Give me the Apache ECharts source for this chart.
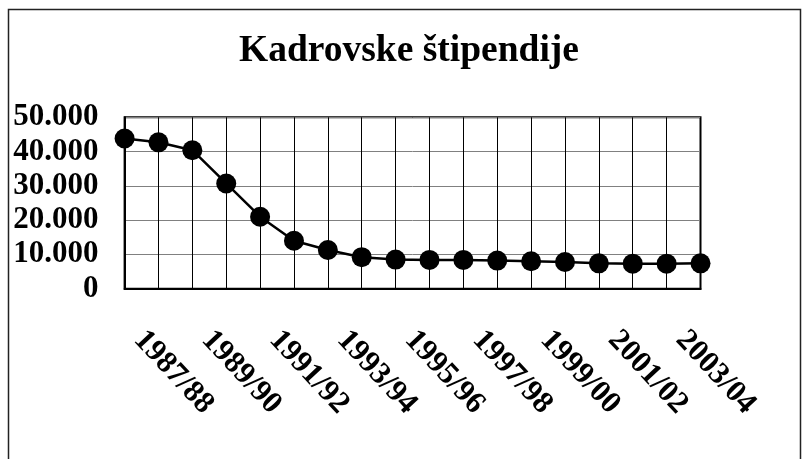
<!DOCTYPE html>
<html>
<head>
<meta charset="utf-8">
<script src="https://cdn.jsdelivr.net/npm/echarts@6/dist/echarts.min.js"></script>
<style>
html,body{margin:0;padding:0;background:#fff;}
#chart{width:802px;height:459px;}
</style>
</head>
<body>
<div id="chart"></div>
<script>
var titleText = 'Kadrovske štipendije';
var categories = ['1987/88','1988/89','1989/90','1990/91','1991/92','1992/93','1993/94','1994/95','1995/96','1996/97','1997/98','1998/99','1999/00','2000/01','2001/02','2002/03','2003/04','2004/05'];
var values = [43800, 42700, 40400, 30700, 21000, 14000, 11300, 9200, 8500, 8400, 8400, 8200, 8000, 7800, 7400, 7300, 7300, 7400];
var yMin = 0, yMax = 50000, yStep = 10000;

var FONT = '"Liberation Serif","Times New Roman",serif';
function fmt(v){ return v === 0 ? '0' : String(v).replace(/\B(?=(\d{3})+(?!\d))/g, '.'); }

var chart = echarts.init(document.getElementById('chart'), null, {renderer:'canvas'});
chart.setOption({
  animation: false,
  backgroundColor: '#fff',
  title: {
    text: titleText, left: 234, top: 27,
    textStyle: {fontFamily: FONT, fontWeight: 'bold', fontSize: 37.5, color: '#000'}
  },
  graphic: [{
    type: 'rect', silent: true,
    shape: {x: 8.5, y: 9.5, width: 792, height: 460},
    style: {fill: 'none', stroke: '#222', lineWidth: 1.5}
  }],
  grid: {left: 124.6, right: 101.5, top: 117.3, bottom: 170.3, show: true, borderColor: '#000', borderWidth: 2, backgroundColor: 'transparent'},
  xAxis: {
    type: 'category', data: categories, boundaryGap: false,
    axisLine: {show: true, lineStyle: {color: '#000', width: 2}},
    axisTick: {show: false},
    axisLabel: {show: true, interval: 1, rotate: -47, margin: 31, padding: [0, 0, 0, 21],
      fontFamily: FONT, fontWeight: 'bold', fontSize: 31, color: '#000'},
    splitLine: {show: true, interval: 0, lineStyle: {color: '#000', width: 1}}
  },
  yAxis: {
    type: 'value', min: yMin, max: yMax, interval: yStep,
    axisLine: {show: true, lineStyle: {color: '#000', width: 2}},
    axisTick: {show: false},
    axisLabel: {formatter: fmt, margin: 26, fontFamily: FONT, fontWeight: 'bold', fontSize: 31, color: '#000'},
    splitLine: {show: true, lineStyle: {color: '#808080', width: 1}}
  },
  series: [{
    type: 'line', data: values,
    symbol: 'circle', symbolSize: 20,
    lineStyle: {color: '#000', width: 2.5},
    itemStyle: {color: '#000'}
  }]
});
</script>
</body>
</html>
